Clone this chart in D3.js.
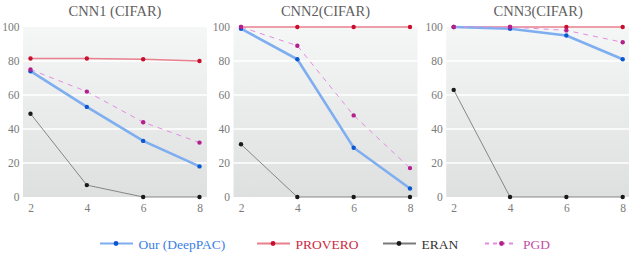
<!DOCTYPE html>
<html>
<head>
<meta charset="utf-8">
<script src="https://cdn.jsdelivr.net/npm/d3@7"></script>
<style>
  body { margin: 0; background: #fff; }
  svg text { font-family: "Liberation Serif", "DejaVu Serif", serif; }
</style>
</head>
<body>
<svg id="chart" width="629" height="255"></svg>
<script>
// datos
const titles = ['CNN1 (CIFAR)', 'CNN2(CIFAR)', 'CNN3(CIFAR)']
const xValues = [2, 4, 6, 8]
const yTicks = [0, 20, 40, 60, 80, 100]
const seriesNames = ['Our (DeepPAC)', 'PROVERO', 'ERAN', 'PGD']

const deeppac = [[74, 53, 33, 18], [99, 81, 29, 5], [100, 99, 95, 81]]
const provero = [[81.5, 81.5, 81, 80], [100, 100, 100, 100], [100, 100, 100, 100]]
const eran = [[49, 7, 0, 0], [31, 0, 0, 0], [63, 0, 0, 0]]
const pgd = [[75, 62, 44, 32], [100, 89, 48, 17], [100, 100, 98, 91]]

const estilos = {
    'Our (DeepPAC)': { data: deeppac, line: '#7eaef0', width: 2.6, dot: '#0b57d0', dash: null, text: '#3b7fe6' },
    'PROVERO': { data: provero, line: '#e8808e', width: 1.4, dot: '#c8102e', dash: null, text: '#cc2a3e' },
    'ERAN': { data: eran, line: '#7a7a7a', width: 0.9, dot: '#1a1a1a', dash: null, text: '#333333' },
    'PGD': { data: pgd, line: '#e58be2', width: 1, dot: '#b3208c', dash: '5,5', text: '#c450a6' }
}
const drawOrder = ['PROVERO', 'Our (DeepPAC)', 'ERAN', 'PGD']
const serif = '"Liberation Serif", "DejaVu Serif", serif'

const svg = d3.select('#chart')

const defs = svg.append('defs')
const grad = defs.append('linearGradient')
    .attr('id', 'bg')
    .attr('x1', 0).attr('y1', 0).attr('x2', 0).attr('y2', 1)
grad.append('stop').attr('offset', '0%').attr('stop-color', '#f5f6f6')
grad.append('stop').attr('offset', '100%').attr('stop-color', '#dedfdf')

const y = d3.scaleLinear().domain([0, 100]).range([197, 27])

const panelX = [30.5, 241, 453.7]
const plotW = 169

titles.forEach(function (title, i) {

    const x = d3.scaleLinear().domain([2, 8]).range([panelX[i], panelX[i] + plotW])

    const g = svg.append('g')

    g.append('rect')
        .attr('x', panelX[i] - 7.5)
        .attr('y', y(100))
        .attr('width', plotW + 15)
        .attr('height', y(0) - y(100))
        .attr('fill', 'url(#bg)')

    g.selectAll('line.grid')
        .data(yTicks.filter((d) => d > 0 && d < 100))
        .join('line')
        .attr('class', 'grid')
        .attr('x1', panelX[i] - 7.5)
        .attr('x2', panelX[i] + plotW + 7.5)
        .attr('y1', (d) => y(d))
        .attr('y2', (d) => y(d))
        .attr('stroke', '#ffffff')
        .attr('stroke-width', 1.6)

    // eje y
    const yAxis = g.append('g')
        .attr('transform', `translate(${panelX[i] - 8},0)`)
        .call(d3.axisLeft(y).tickValues(yTicks).tickFormat(d3.format('d')).tickSize(0).tickPadding(3))
        .attr('font-family', serif)
    yAxis.select('.domain').remove()
    yAxis.selectAll('text')
        .attr('font-size', 11.5)
        .attr('fill', '#7a7a7a')

    // eje x
    const xAxis = g.append('g')
        .attr('transform', `translate(0,${y(0) + 5})`)
        .call(d3.axisBottom(x).tickValues(xValues).tickFormat(d3.format('d')).tickSize(0).tickPadding(2))
        .attr('font-family', serif)
    xAxis.select('.domain').remove()
    xAxis.selectAll('text')
        .attr('font-size', 11.5)
        .attr('fill', '#7a7a7a')

    g.append('text')
        .attr('x', panelX[i] + plotW / 2)
        .attr('y', 16)
        .attr('text-anchor', 'middle')
        .attr('font-size', 14.5)
        .attr('fill', '#5e5e5e')
        .text(title)

    const line = d3.line()
        .x((d, k) => x(xValues[k]))
        .y((d) => y(d))

    drawOrder.forEach(function (name) {
        const s = estilos[name]
        const vals = s.data[i]

        g.append('path')
            .datum(vals)
            .attr('d', line)
            .attr('fill', 'none')
            .attr('stroke', s.line)
            .attr('stroke-width', s.width)
            .attr('stroke-dasharray', s.dash)

        g.selectAll(null)
            .data(vals)
            .join('circle')
            .attr('cx', (d, k) => x(xValues[k]))
            .attr('cy', (d) => y(d))
            .attr('r', 2.2)
            .attr('fill', s.dot)
    })
})

// leyenda
const legendX = [100, 257, 383, 485]
const legendY = 243.5

seriesNames.forEach(function (name, i) {
    const s = estilos[name]
    const lg = svg.append('g').attr('transform', `translate(${legendX[i]},${legendY})`)

    lg.append('line')
        .attr('x1', 0).attr('x2', name == 'PGD' ? 31 : 33)
        .attr('y1', 0).attr('y2', 0)
        .attr('stroke', s.line)
        .attr('stroke-width', 2)
        .attr('stroke-dasharray', s.dash ? '4,4' : null)

    lg.append('circle')
        .attr('cx', name == 'PGD' ? 16.5 : 16).attr('cy', 0)
        .attr('r', 2.4)
        .attr('fill', s.dot)

    lg.append('text')
        .attr('x', name == 'PGD' ? 38 : 38.5)
        .attr('y', 5)
        .attr('font-size', 13.5)
        .attr('fill', s.text)
        .text(name)
})
</script>
</body>
</html>
